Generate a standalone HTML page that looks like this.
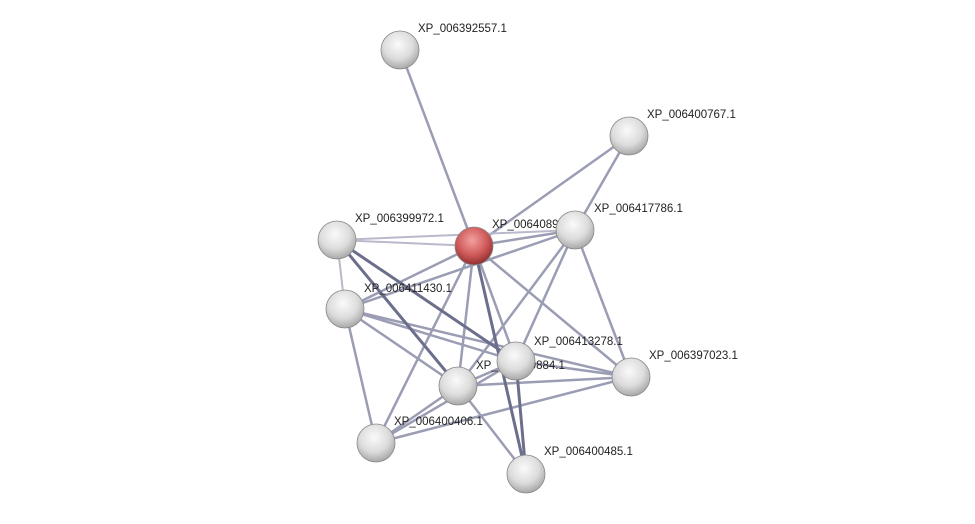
<!DOCTYPE html>
<html><head><style>
body{margin:0;background:#fff;width:975px;height:519px;overflow:hidden}
text{font-family:"Liberation Sans",sans-serif;font-size:11.5px;fill:#222}
</style></head><body>
<svg width="975" height="519" viewBox="0 0 975 519">
<defs>
<radialGradient id="g" cx="45%" cy="35%" r="65%"><stop offset="0" stop-color="#fafafa"/><stop offset="0.6" stop-color="#dcdcdc"/><stop offset="1" stop-color="#a8a8a8"/></radialGradient>
<radialGradient id="r" cx="45%" cy="35%" r="65%"><stop offset="0" stop-color="#f2a0a0"/><stop offset="0.6" stop-color="#d05a5a"/><stop offset="1" stop-color="#903030"/></radialGradient>
</defs>
<g stroke-linecap="round">
<g stroke="#9a9db3" stroke-width="2.5">
<line x1="400" y1="50" x2="474" y2="246"/>
<line x1="629" y1="136" x2="474" y2="246"/>
<line x1="629" y1="136" x2="575" y2="230"/>
<line x1="474" y1="246" x2="575" y2="230"/>
<line x1="474" y1="246" x2="345" y2="309"/>
<line x1="474" y1="246" x2="458" y2="386"/>
<line x1="474" y1="246" x2="516" y2="361"/>
<line x1="474" y1="246" x2="631" y2="377"/>
<line x1="474" y1="246" x2="376" y2="443"/>
<line x1="345" y1="309" x2="575" y2="230"/>
<line x1="345" y1="309" x2="516" y2="361"/>
<line x1="345" y1="309" x2="458" y2="386"/>
<line x1="345" y1="309" x2="631" y2="377"/>
<line x1="345" y1="309" x2="376" y2="443"/>
<line x1="575" y1="230" x2="516" y2="361"/>
<line x1="575" y1="230" x2="458" y2="386"/>
<line x1="575" y1="230" x2="631" y2="377"/>
<line x1="516" y1="361" x2="458" y2="386"/>
<line x1="516" y1="361" x2="631" y2="377"/>
<line x1="516" y1="361" x2="376" y2="443"/>
<line x1="458" y1="386" x2="631" y2="377"/>
<line x1="458" y1="386" x2="526" y2="474"/>
<line x1="458" y1="386" x2="376" y2="443"/>
<line x1="376" y1="443" x2="631" y2="377"/>
</g>
<g stroke="#b8bacb" stroke-width="2">
<line x1="337" y1="240" x2="474" y2="246"/>
<line x1="337" y1="240" x2="575" y2="230"/>
<line x1="337" y1="240" x2="345" y2="309"/>
</g>
<g stroke="#6b6f8c" stroke-width="3">
<line x1="337" y1="240" x2="458" y2="386"/>
<line x1="337" y1="240" x2="516" y2="361"/>
<line x1="474" y1="246" x2="526" y2="474"/>
<line x1="516" y1="361" x2="526" y2="474"/>
</g>
</g>
<g stroke="#888" stroke-width="0.8">
<circle cx="400" cy="50" r="19" fill="url(#g)"/>
<circle cx="629" cy="136" r="19" fill="url(#g)"/>
<circle cx="337" cy="240" r="19" fill="url(#g)"/>
<circle cx="474" cy="246" r="19" fill="url(#r)"/>
<text x="492" y="228" stroke="none">XP_006408968.1</text>
<circle cx="575" cy="230" r="19" fill="url(#g)"/>
<circle cx="345" cy="309" r="19" fill="url(#g)"/>
<text x="476" y="369" stroke="none">XP_006419884.1</text>
<circle cx="458" cy="386" r="19" fill="url(#g)"/>
<circle cx="516" cy="361" r="19" fill="url(#g)"/>
<circle cx="631" cy="377" r="19" fill="url(#g)"/>
<circle cx="376" cy="443" r="19" fill="url(#g)"/>
<circle cx="526" cy="474" r="19" fill="url(#g)"/>
</g>
<text x="418" y="32">XP_006392557.1</text>
<text x="647" y="118">XP_006400767.1</text>
<text x="355" y="222">XP_006399972.1</text>
<text x="594" y="212">XP_006417786.1</text>
<text x="364" y="292">XP_006411430.1</text>
<text x="534" y="345">XP_006413278.1</text>
<text x="649" y="359">XP_006397023.1</text>
<text x="394" y="425">XP_006400406.1</text>
<text x="544" y="455">XP_006400485.1</text>
</svg>
</body></html>
